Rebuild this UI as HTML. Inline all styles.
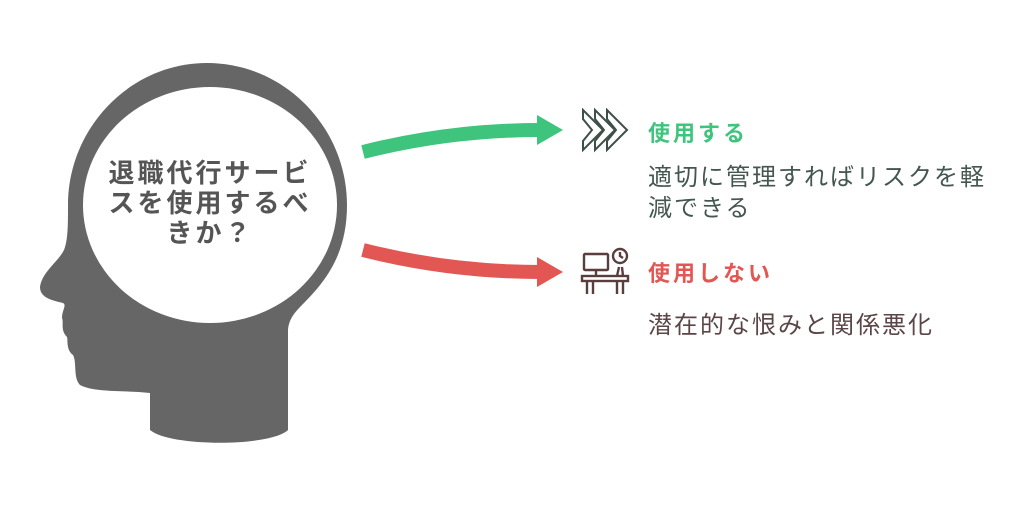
<!DOCTYPE html>
<html><head><meta charset="utf-8">
<style>
body{margin:0;width:1024px;height:511px;background:#fff;overflow:hidden;position:relative;font-family:"Liberation Sans","Noto Sans CJK JP",sans-serif;}
.t{position:absolute;white-space:nowrap;}
</style></head><body>
<svg width="1024" height="511" style="position:absolute;left:0;top:0">
<path fill="#666" d="M150,430 L150,393 C125,390 95,393 80,385 C73,378 77,362 73,355 C66,350 68,340 67,337 C60,330 64,322 62,318 C62,310 67,305 63,303 C50,300 40,297 40,287 C42,272 58,262 64,250 C68,240 68,225 68,205 C68,128 130,63 207,63 C285,63 347,128 347,205 C347,255 325,282 302,305 C292,315 288,322 288,332 L288,430 C270,447 170,447 150,430 Z"/>
<ellipse cx="210" cy="205" rx="127" ry="118" fill="#fff"/>
<path d="M363,152 Q450,130 540,130" stroke="#3ec47c" stroke-width="14" fill="none"/>
<polygon points="537,115 563,130 537,145" fill="#3ec47c"/>
<path d="M363,250 Q450,272 540,272" stroke="#e25753" stroke-width="14" fill="none"/>
<polygon points="537,257 563,272 537,287" fill="#e25753"/>
<g fill="#fff" stroke="#3d4f47" stroke-width="2" stroke-linejoin="miter">
<polygon points="607,110 627,130 607,150 607,141 616,130 607,119"/>
<polygon points="595,110 615,130 595,150 595,141 604,130 595,119"/>
<polygon points="583,110 603,130 583,150 583,141 592,130 583,119"/>
</g>
<g fill="none" stroke="#5a3e3e" stroke-width="2.4">
<rect x="584" y="254" width="24" height="16" rx="1"/>
<line x1="596" y1="270" x2="596" y2="276"/>
<rect x="582" y="276" width="46" height="5"/>
<line x1="587" y1="281" x2="587" y2="294"/><line x1="593" y1="281" x2="593" y2="294"/>
<line x1="617" y1="281" x2="617" y2="294"/><line x1="623" y1="281" x2="623" y2="294"/>
<circle cx="620" cy="256" r="7"/><polyline points="620,252 620,256 623,258"/>
<line x1="617" y1="276" x2="619" y2="267"/><line x1="623" y1="276" x2="622" y2="267"/>
</g>
</svg>
<div class="t" style="left:80px;top:158px;width:260px;text-align:center;font-size:26px;font-weight:bold;color:#555;line-height:30px;letter-spacing:3px;white-space:normal;">退職代行サービ<br>スを使用するべ<br>きか？</div>
<div class="t" style="left:648px;top:116px;font-size:22px;font-weight:bold;color:#3ec47c;letter-spacing:3px;">使用する</div>
<div class="t" style="left:648px;top:162px;font-size:24px;color:#44574f;line-height:31px;letter-spacing:2px;">適切に管理すればリスクを軽<br>減できる</div>
<div class="t" style="left:648px;top:256px;font-size:22px;font-weight:bold;color:#e25753;letter-spacing:3px;">使用しない</div>
<div class="t" style="left:648px;top:305px;font-size:24px;color:#5a4646;letter-spacing:2px;">潜在的な恨みと関係悪化</div>
</body></html>
